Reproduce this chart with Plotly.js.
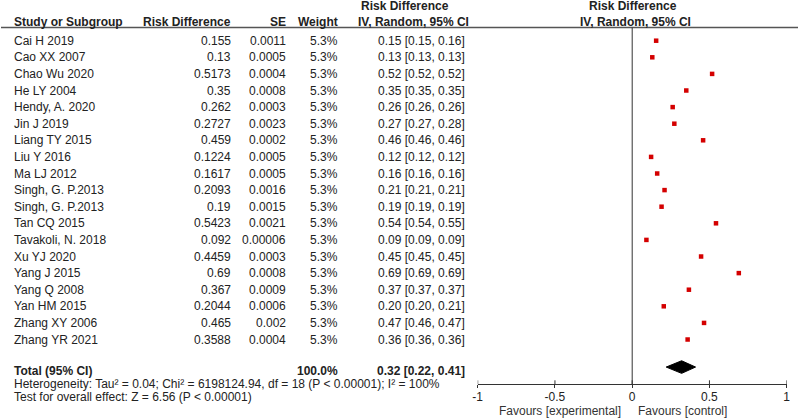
<!DOCTYPE html>
<html>
<head>
<meta charset="utf-8">
<script src="https://cdn.plot.ly/plotly-3.0.1.min.js"></script>
<style>html,body{margin:0;padding:0;background:#fff;}#chart{width:800px;height:420px;}</style>
</head>
<body>
<div id="chart"></div>
<script>
// ---- data ----
const studies = ["Cai H 2019","Cao XX 2007","Chao Wu 2020","He LY 2004","Hendy, A. 2020","Jin J 2019","Liang TY 2015","Liu Y 2016","Ma LJ 2012","Singh, G. P.2013","Singh, G. P.2013","Tan CQ 2015","Tavakoli, N. 2018","Xu YJ 2020","Yang J 2015","Yang Q 2008","Yan HM 2015","Zhang XY 2006","Zhang YR 2021"];
const riskDiff = [0.155,0.13,0.5173,0.35,0.262,0.2727,0.459,0.1224,0.1617,0.2093,0.19,0.5423,0.092,0.4459,0.69,0.367,0.2044,0.465,0.3588];
const seText = ["0.0011","0.0005","0.0004","0.0008","0.0003","0.0023","0.0002","0.0005","0.0005","0.0016","0.0015","0.0021","0.00006","0.0003","0.0008","0.0009","0.0006","0.002","0.0004"];
const weightText = ["5.3%","5.3%","5.3%","5.3%","5.3%","5.3%","5.3%","5.3%","5.3%","5.3%","5.3%","5.3%","5.3%","5.3%","5.3%","5.3%","5.3%","5.3%","5.3%"];
const ciText = ["0.15 [0.15, 0.16]","0.13 [0.13, 0.13]","0.52 [0.52, 0.52]","0.35 [0.35, 0.35]","0.26 [0.26, 0.26]","0.27 [0.27, 0.28]","0.46 [0.46, 0.46]","0.12 [0.12, 0.12]","0.16 [0.16, 0.16]","0.21 [0.21, 0.21]","0.19 [0.19, 0.19]","0.54 [0.54, 0.55]","0.09 [0.09, 0.09]","0.45 [0.45, 0.45]","0.69 [0.69, 0.69]","0.37 [0.37, 0.37]","0.20 [0.20, 0.21]","0.47 [0.46, 0.47]","0.36 [0.36, 0.36]"];
const totalEst = 0.32, totalLo = 0.22, totalHi = 0.41;
const totalWeight = "100.0%";
const totalCI = "0.32 [0.22, 0.41]";
const heterogeneity = "Heterogeneity: Tau² = 0.04; Chi² = 6198124.94, df = 18 (P < 0.00001); I² = 100%";
const overallTest = "Test for overall effect: Z = 6.56 (P < 0.00001)";
const tickVals = [-1,-0.5,0,0.5,1];
const tickLabels = ["-1","-0.5","0","0.5","1"];

// ---- layout helpers ----
const W = 800, H = 420;
const FONT = "Arial, 'Liberation Sans', sans-serif";
const TXT = "#222";
const rows = studies.map((_, i) => i);
const totalRow = 19.66;
const axisPaperY = 1 - 384.3 / H;
const headerPaperY = 1 - 27.5 / H;
const px = v => v / W;

const ann = [];
function add(text, xPix, y, anchor, bold, extra) {
  ann.push(Object.assign({
    text: bold ? "<b>" + text + "</b>" : text,
    xref: "paper", yref: "y", x: px(xPix), y: y,
    xanchor: anchor, yanchor: "middle", showarrow: false,
    font: {family: FONT, size: 12, color: TXT}
  }, extra || {}));
}

// headers
add("Study or Subgroup", 12, -1.13, "left", true);
add("Risk Difference", 233, -1.13, "right", true);
add("SE", 288, -1.13, "right", true);
add("Weight", 340, -1.13, "right", true);
add("Risk Difference", 404.5, -2.09, "center", true);
add("IV, Random, 95% CI", 413, -1.13, "center", true);
add("Risk Difference", 632.5, -2.09, "center", true);
add("IV, Random, 95% CI", 635, -1.13, "center", true);

// study rows
rows.forEach(i => {
  add(studies[i], 12, i, "left", false);
  add(String(riskDiff[i]), 233, i, "right", false);
  add(seText[i], 288, i, "right", false);
  add(weightText[i], 340, i, "right", false);
  add(ciText[i], 467, i, "right", false);
});

// total rows
add("Total (95% CI)", 12, totalRow + 0.22, "left", true);
add(totalWeight, 340, totalRow + 0.22, "right", true);
add(totalCI, 467, totalRow + 0.22, "right", true);
add(heterogeneity, 12, 20.68, "left", false);
add(overallTest, 12, 21.45, "left", false);

// favours labels
ann.push({text: "Favours [experimental]", xref: "x", yref: "paper", x: 0, y: 0,
  xanchor: "right", yanchor: "bottom", xshift: -10, yshift: 1, borderpad: 0, showarrow: false,
  font: {family: FONT, size: 12, color: "#333"}});
ann.push({text: "Favours [control]", xref: "x", yref: "paper", x: 0, y: 0,
  xanchor: "left", yanchor: "bottom", xshift: 5, yshift: 1, borderpad: 0, showarrow: false,
  font: {family: FONT, size: 12, color: "#333"}});

const shapes = [
  {type: "line", xref: "paper", yref: "paper", x0: px(1), x1: px(798), y0: headerPaperY, y1: headerPaperY,
   line: {color: "#555", width: 1.5}},
  {type: "line", xref: "x", yref: "paper", x0: 0, x1: 0, y0: axisPaperY, y1: headerPaperY,
   line: {color: "#333", width: 1}}
];
tickVals.forEach(t => shapes.push({type: "line", xref: "x", yref: "paper", x0: t, x1: t,
  y0: axisPaperY, y1: axisPaperY + 4 / H, line: {color: "#333", width: 1}}));

const traces = [
  {type: "scatter", mode: "markers", x: riskDiff, y: rows,
   marker: {symbol: "square", size: 4.5, color: "#d40000", line: {width: 0}},
   hoverinfo: "skip", showlegend: false},
  {type: "scatter", mode: "lines",
   x: [totalLo, totalEst, totalHi, totalEst, totalLo],
   y: [totalRow, totalRow - 0.38, totalRow, totalRow + 0.38, totalRow],
   fill: "toself", fillcolor: "#000", line: {color: "#000", width: 1},
   hoverinfo: "skip", showlegend: false}
];

const layout = {
  width: W, height: H,
  margin: {l: 0, r: 0, t: 0, b: 0},
  paper_bgcolor: "#fff", plot_bgcolor: "rgba(0,0,0,0)",
  showlegend: false,
  xaxis: {
    domain: [477.7 / W, 786.7 / W], range: [-1, 1],
    tickmode: "array", tickvals: tickVals, ticktext: tickLabels,
    ticks: "outside", ticklen: 3, tickcolor: "#333", tickwidth: 1,
    ticklabelstandoff: -2,
    showline: true, linecolor: "#333", linewidth: 1,
    showgrid: false, zeroline: false,
    anchor: "free", position: axisPaperY,
    tickfont: {family: FONT, size: 12, color: "#222"}, fixedrange: true
  },
  yaxis: {
    domain: [0, 1], range: [22.849, -2.452], visible: false,
    showgrid: false, zeroline: false, fixedrange: true
  },
  annotations: ann,
  shapes: shapes
};

Plotly.newPlot("chart", traces, layout, {displayModeBar: false, staticPlot: true});
</script>
</body>
</html>
